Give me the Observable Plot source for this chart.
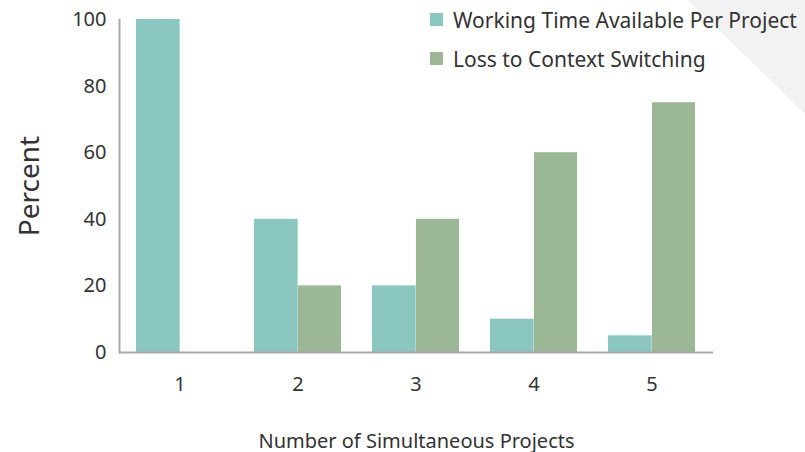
<!DOCTYPE html>
<html>
<head>
<meta charset="utf-8">
<script src="https://cdn.jsdelivr.net/npm/d3@7"></script>
<script src="https://cdn.jsdelivr.net/npm/@observablehq/plot@0.6"></script>
<style>
  html, body { margin: 0; padding: 0; background: #fff; }
  #wrap { position: relative; width: 805px; height: 452px; overflow: hidden; font-family: "Noto Sans", sans-serif; }
  #corner { position: absolute; left: 0; top: 0; width: 805px; height: 452px; background: #f2f2f2;
            clip-path: polygon(688px 0, 805px 0, 805px 114px); }
  #chart { position: absolute; left: 0; top: 0; }
  #legend { position: absolute; left: 430px; top: 0px; color: #333; font-size: 21px; }
  .item { display: flex; align-items: center; height: 39px; white-space: nowrap; }
  .sw { width: 13px; height: 13px; margin-right: 10px; }
</style>
</head>
<body>
<div id="wrap">
  <div id="corner"></div>
  <div id="chart"></div>
  <div id="legend"></div>
</div>
<script>
const projects = ["1", "2", "3", "4", "5"];
const seriesNames = ["Working Time Available Per Project", "Loss to Context Switching"];
const workingTime = [100, 40, 20, 10, 5];
const contextLoss = [0, 20, 40, 60, 75];
const yTicks = [0, 20, 40, 60, 80, 100];
const colors = ["#89c7c0", "#9cb795"];
const xTitle = "Number of Simultaneous Projects";
const yTitle = "Percent";

const W = 805, H = 452, mL = 119, mR = 92, mT = 19, mB = 100;
const groupPad = 0.26;
// half of a group's bar width, derived from the layout
const half = ((W - mL - mR) / projects.length) * (1 - groupPad) / 2;

const working = projects.map((p, i) => ({project: p, series: seriesNames[0], value: workingTime[i]}));
const loss = projects.map((p, i) => ({project: p, series: seriesNames[1], value: contextLoss[i]}));

const chart = Plot.plot({
  width: W,
  height: H,
  marginLeft: mL,
  marginRight: mR,
  marginTop: mT,
  marginBottom: mB,
  style: {fontFamily: "'Noto Sans', sans-serif", fontSize: "20px", color: "#333", background: "transparent"},
  x: {type: "band", domain: projects, paddingInner: groupPad, paddingOuter: groupPad / 2},
  y: {domain: [0, 100], ticks: yTicks},
  color: {domain: seriesNames, range: colors},
  marks: [
    Plot.barY(working, {x: "project", y: "value", fill: "series", insetRight: half - 0.6}),
    Plot.barY(loss, {x: "project", y: "value", fill: "series", insetLeft: half}),
    Plot.ruleY([0], {stroke: "#aaa", strokeWidth: 2}),
    Plot.frame({anchor: "left", stroke: "#aaa", strokeWidth: 2}),
    Plot.axisY({ticks: yTicks, tickSize: 0, tickPadding: 13, fontSize: 20, label: null}),
    Plot.axisY({ticks: [], tickSize: 0, fontSize: 28, label: yTitle,
                labelAnchor: "center", labelArrow: "none", labelOffset: 100}),
    Plot.axisX({tickSize: 0, tickPadding: 24, fontSize: 20, label: xTitle,
                labelAnchor: "center", labelArrow: "none", labelOffset: 95})
  ]
});
document.getElementById("chart").appendChild(chart);

const legend = document.getElementById("legend");
seriesNames.forEach((s, i) => {
  const item = document.createElement("div");
  item.className = "item";
  const sw = document.createElement("span");
  sw.className = "sw";
  sw.style.background = colors[i];
  const t = document.createElement("span");
  t.textContent = s;
  item.appendChild(sw);
  item.appendChild(t);
  legend.appendChild(item);
});
</script>
</body>
</html>
